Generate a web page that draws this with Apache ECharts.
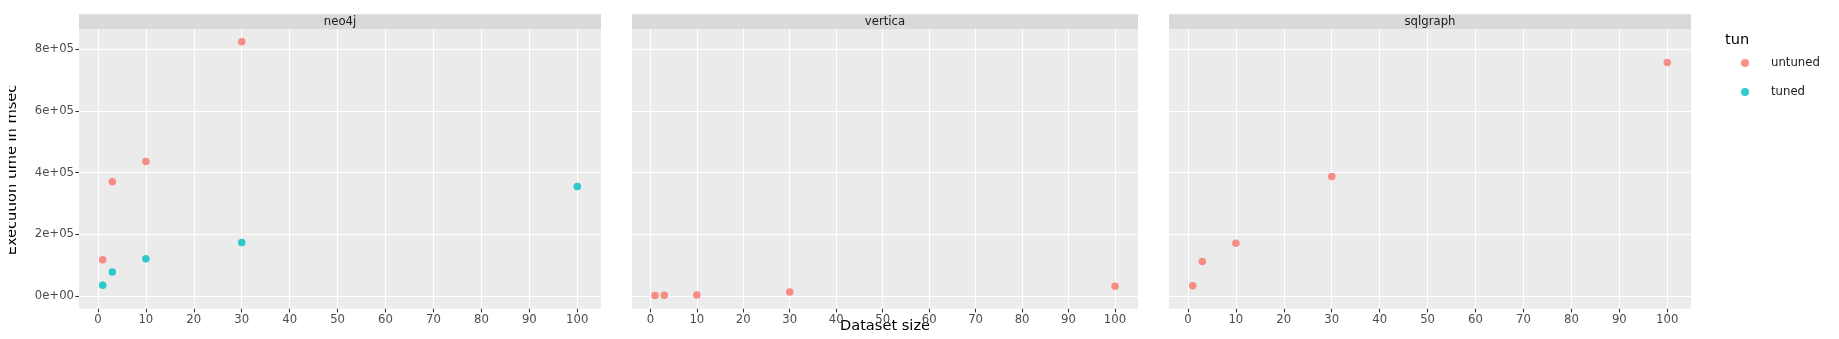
<!DOCTYPE html>
<html><head><meta charset="utf-8">
<script src="https://cdn.jsdelivr.net/npm/echarts@6/dist/echarts.min.js"></script>
<style>html,body{margin:0;padding:0;background:#fff}#c{width:1839px;height:339px}</style>
</head><body><div id="c"></div>
<script>
// ---- data ----
const panels = ['neo4j', 'vertica', 'sqlgraph'];
const neo4jUntunedSizes = [1, 3, 10, 30];
const neo4jUntuned = [118000, 371000, 436000, 825000];
const neo4jTunedSizes = [1, 3, 10, 30, 100];
const neo4jTuned = [35000, 78000, 121000, 174000, 355000];
const verticaSizes = [1, 3, 10, 30, 100];
const verticaUntuned = [1500, 2500, 3500, 13000, 32000];
const sqlgraphSizes = [1, 3, 10, 30, 100];
const sqlgraphUntuned = [33500, 112000, 171000, 388000, 757000];
const xTicks = [0, 10, 20, 30, 40, 50, 60, 70, 80, 90, 100];
const yTicks = [0, 200000, 400000, 600000, 800000];
const yTickLabels = ['0e+00', '2e+05', '4e+05', '6e+05', '8e+05'];
const legendNames = ['untuned', 'tuned'];

// ---- layout / style ----
const FONT = 'DejaVu Sans';
const UNT = '#F8766D', TUN = '#00BFC4';
const gridBoxes = [
  {left: 79, width: 522},
  {left: 632, width: 506},
  {left: 1169, width: 522}
];
const TOP = 29, BOTTOM = 308.7;
const STRIP_TOP = 14.3;

function pair(xs, ys) { return xs.map((x, i) => [x, ys[i]]); }

const grids = gridBoxes.map(g => ({
  left: g.left, width: g.width, top: TOP, height: BOTTOM - TOP,
  show: true, backgroundColor: '#EBEBEB', borderWidth: 0
}));

const xAxes = gridBoxes.map((g, i) => ({
  gridIndex: i, type: 'value', min: -3.95, max: 104.95, position: 'bottom',
  axisLine: {show: false, onZero: false},
  axisTick: {show: true, length: 3.65, customValues: xTicks, lineStyle: {color: '#333333', width: 1.07}},
  axisLabel: {customValues: xTicks, margin: 5, color: '#4D4D4D', fontSize: 11.69, fontFamily: FONT,
    showMinLabel: true, showMaxLabel: true},
  splitLine: {show: true, lineStyle: {color: '#FFFFFF', width: 1.07}}
}));

const yAxes = gridBoxes.map((g, i) => ({
  gridIndex: i, type: 'value', min: -41000, max: 866000, position: 'left',
  axisLine: {show: false, onZero: false},
  axisTick: {show: i === 0, length: 3.65, customValues: yTicks, lineStyle: {color: '#333333', width: 1.07}},
  axisLabel: {show: i === 0, customValues: yTicks, margin: 5, color: '#4D4D4D', fontSize: 11.69, fontFamily: FONT,
    formatter: v => { const k = yTicks.indexOf(v); return k >= 0 ? yTickLabels[k] : ''; }},
  splitLine: {show: true, lineStyle: {color: '#FFFFFF', width: 1.07}}
}));

function sc(name, color, idx, data) {
  return {
    name: name, type: 'scatter', xAxisIndex: idx, yAxisIndex: idx,
    symbol: 'circle', symbolSize: 7.5, data: data,
    itemStyle: {color: color, opacity: 0.82}, emphasis: {disabled: true}
  };
}

const series = [
  sc('untuned', UNT, 0, pair(neo4jUntunedSizes, neo4jUntuned)),
  sc('tuned', TUN, 0, pair(neo4jTunedSizes, neo4jTuned)),
  sc('untuned', UNT, 1, pair(verticaSizes, verticaUntuned)),
  sc('untuned', UNT, 2, pair(sqlgraphSizes, sqlgraphUntuned))
];

const graphics = [];
gridBoxes.forEach((g, i) => {
  graphics.push({type: 'rect', shape: {x: g.left, y: STRIP_TOP, width: g.width, height: TOP - STRIP_TOP},
    style: {fill: '#D9D9D9'}, silent: true});
  graphics.push({type: 'text', x: g.left + g.width / 2, y: (STRIP_TOP + TOP) / 2,
    style: {text: panels[i], fill: '#1A1A1A', font: '11.69px "' + FONT + '"', align: 'center', verticalAlign: 'middle'}, silent: true});
});
graphics.push({type: 'text', x: 885, y: 326,
  style: {text: 'Dataset size', fill: '#000000', font: '14.6px "' + FONT + '"', align: 'center', verticalAlign: 'middle'}, silent: true});
graphics.push({type: 'text', x: 12, y: 170, rotation: Math.PI / 2,
  style: {text: 'Execution time in msec', fill: '#000000', font: '14.6px "' + FONT + '"', align: 'center', verticalAlign: 'middle'}, silent: true});
graphics.push({type: 'rect', shape: {x: 0, y: 70, width: 9, height: 200}, style: {fill: '#FFFFFF'}, z: 200, silent: true});
graphics.push({type: 'text', x: 1725, y: 40.7,
  style: {text: 'tun', fill: '#000000', font: '14.6px "' + FONT + '"', align: 'left', verticalAlign: 'middle'}, silent: true});

const chart = echarts.init(document.getElementById('c'), null, {renderer: 'canvas'});
chart.setOption({
  animation: false,
  backgroundColor: '#FFFFFF',
  grid: grids,
  xAxis: xAxes,
  yAxis: yAxes,
  series: series,
  legend: {
    data: legendNames, orient: 'vertical', left: 1741, top: 56, padding: 0,
    icon: 'circle', itemWidth: 8, itemHeight: 8, itemGap: 15,
    textStyle: {color: '#1A1A1A', fontSize: 11.69, fontFamily: FONT, lineHeight: 14, padding: [0, 0, 0, 17]},
    selectedMode: false
  },
  graphic: graphics
});
</script></body></html>
